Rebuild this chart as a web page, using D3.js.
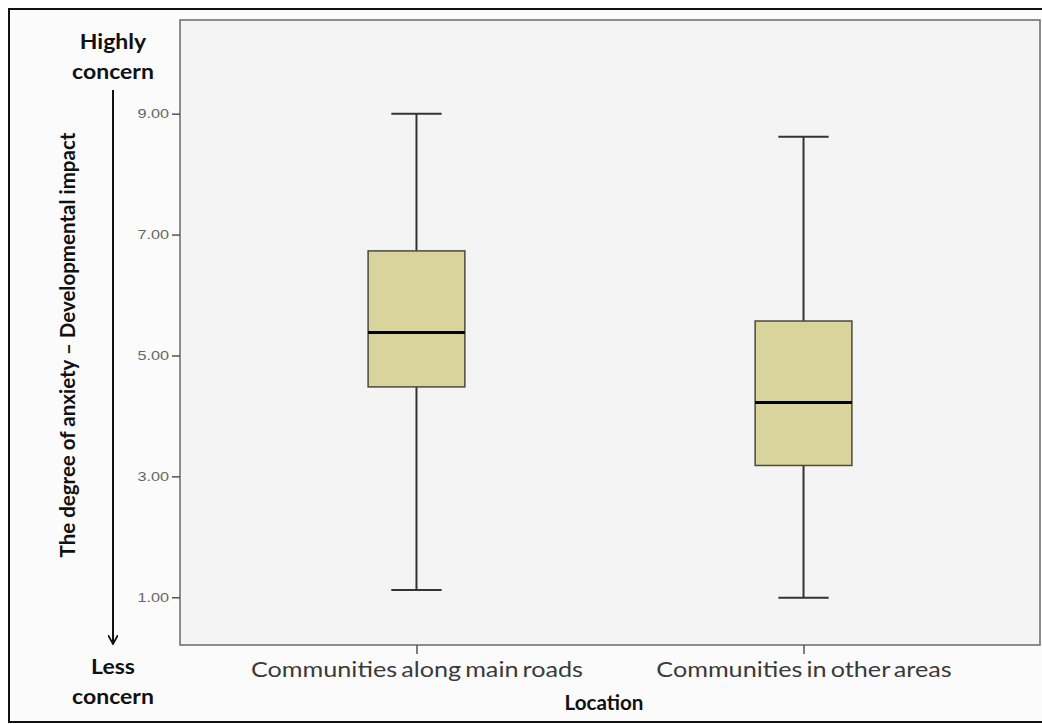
<!DOCTYPE html>
<html>
<head>
<meta charset="utf-8">
<script src="https://cdn.jsdelivr.net/npm/d3@7"></script>
<style>
    body { margin: 0; background: #ffffff; }
    svg { display: block; }
</style>
</head>
<body>
<div id="chart"></div>
<script>
// data
const categories = ["Communities along main roads", "Communities in other areas"];
const whiskerLow = [1.12, 0.99];
const q1 = [4.48, 3.18];
const median = [5.38, 4.22];
const q3 = [6.73, 5.57];
const whiskerHigh = [9.0, 8.62];
const yTicks = [1, 3, 5, 7, 9];
const yDomain = [0.21, 10.55];

const boxes = categories.map((c, i) => ({
    cat: c, lo: whiskerLow[i], q1: q1[i], med: median[i], q3: q3[i], hi: whiskerHigh[i]
}));

const W = 1042, H = 724;
const plot = {left: 180, right: 1040, top: 20, bottom: 645};
// the source picture is a bit wider than tall, so horizontal text is stretched
const sx = 1.2;

const svg = d3.select("#chart").append("svg")
    .attr("width", W)
    .attr("height", H);

// outer frame
svg.append("rect")
    .attr("x", 9).attr("y", 9)
    .attr("width", W + 20).attr("height", 713)
    .attr("fill", "#fbfbfb")
    .attr("stroke", "#111")
    .attr("stroke-width", 2);

// scales
const y = d3.scaleLinear().domain(yDomain).range([plot.bottom, plot.top]);
const x = d3.scalePoint().domain(categories).range([plot.left, plot.right]).padding(0.611);
const step = x.step();
const boxW = step * 0.25;
const capW = step * 0.13;

// plot background
svg.append("rect")
    .attr("x", plot.left).attr("y", plot.top)
    .attr("width", plot.right - plot.left).attr("height", plot.bottom - plot.top)
    .attr("fill", "#f4f4f4")
    .attr("stroke", "#6a6a6a")
    .attr("stroke-width", 1.5);

// y axis
const yAxis = d3.axisLeft(y).tickValues(yTicks).tickFormat(d3.format(".2f")).tickSize(8).tickPadding(2);
const yG = svg.append("g")
    .attr("transform", `translate(${plot.left},0)`)
    .call(yAxis);
yG.select(".domain").remove();
yG.selectAll(".tick line").attr("stroke", "#555").attr("stroke-width", 1.5);
yG.selectAll(".tick text")
    .attr("x", -11 / 1.3)
    .attr("transform", "scale(1.3,1)")
    .attr("fill", "#666")
    .style("font-family", "Arial, 'Liberation Sans', sans-serif")
    .style("font-size", "12.5px");

// x axis
const xAxis = d3.axisBottom(x).tickSize(9).tickPadding(8);
const xG = svg.append("g")
    .attr("transform", `translate(0,${plot.bottom})`)
    .call(xAxis);
xG.select(".domain").remove();
xG.selectAll(".tick line").attr("stroke", "#555").attr("stroke-width", 1.5);
xG.selectAll(".tick text")
    .attr("transform", `scale(${sx},1)`)
    .attr("fill", "#3a3a3a")
    .attr("y", 32)
    .attr("dy", 0)
    .style("word-spacing", "-2px")
    .style("font-family", "Lato, 'Open Sans', sans-serif")
    .style("font-size", "21px");

// boxes
const g = svg.selectAll(".box")
    .data(boxes)
    .enter().append("g")
    .attr("class", "box");

g.append("line")
    .attr("x1", d => x(d.cat)).attr("x2", d => x(d.cat))
    .attr("y1", d => y(d.hi)).attr("y2", d => y(d.q3))
    .attr("stroke", "#333").attr("stroke-width", 2);
g.append("line")
    .attr("x1", d => x(d.cat)).attr("x2", d => x(d.cat))
    .attr("y1", d => y(d.q1)).attr("y2", d => y(d.lo))
    .attr("stroke", "#333").attr("stroke-width", 2);
g.append("line")
    .attr("x1", d => x(d.cat) - capW / 2).attr("x2", d => x(d.cat) + capW / 2)
    .attr("y1", d => y(d.hi)).attr("y2", d => y(d.hi))
    .attr("stroke", "#333").attr("stroke-width", 2);
g.append("line")
    .attr("x1", d => x(d.cat) - capW / 2).attr("x2", d => x(d.cat) + capW / 2)
    .attr("y1", d => y(d.lo)).attr("y2", d => y(d.lo))
    .attr("stroke", "#333").attr("stroke-width", 2);
g.append("rect")
    .attr("x", d => x(d.cat) - boxW / 2)
    .attr("y", d => y(d.q3))
    .attr("width", boxW)
    .attr("height", d => y(d.q1) - y(d.q3))
    .attr("fill", "#d9d39c")
    .attr("stroke", "#4a4a40")
    .attr("stroke-width", 1.5);
g.append("line")
    .attr("x1", d => x(d.cat) - boxW / 2).attr("x2", d => x(d.cat) + boxW / 2)
    .attr("y1", d => y(d.med)).attr("y2", d => y(d.med))
    .attr("stroke", "#000").attr("stroke-width", 3);

// stretched bold label helper
function boldLabel(txt, cx, cy, stretch) {
    svg.append("text")
        .attr("transform", `translate(${cx},${cy}) scale(${stretch},1)`)
        .attr("text-anchor", "middle")
        .style("font-family", "Lato, 'Open Sans', sans-serif")
        .style("font-size", "20px")
        .style("font-weight", "bold")
        .attr("fill", "#111")
        .text(txt);
}

// x title
boldLabel("Location", 604, 710, 1.03);

// y title
svg.append("text")
    .attr("transform", "translate(75,345) rotate(-90)")
    .attr("text-anchor", "middle")
    .style("font-family", "Lato, 'Open Sans', sans-serif")
    .style("font-size", "20.5px")
    .style("font-weight", "bold")
    .attr("fill", "#111")
    .text("The degree of anxiety \u2013 Developmental impact");

// arrow
svg.append("defs").append("marker")
    .attr("id", "arrow")
    .attr("viewBox", "0 0 10 10")
    .attr("refX", 9).attr("refY", 5)
    .attr("markerWidth", 10).attr("markerHeight", 10)
    .attr("markerUnits", "userSpaceOnUse")
    .attr("orient", "auto")
    .append("path")
    .attr("d", "M0,0 L9,5 L0,10")
    .attr("fill", "none")
    .attr("stroke", "#111")
    .attr("stroke-width", 1.8);

svg.append("line")
    .attr("x1", 113).attr("x2", 113)
    .attr("y1", 90).attr("y2", 644)
    .attr("stroke", "#111")
    .attr("stroke-width", 2)
    .attr("marker-end", "url(#arrow)");

// concern labels
const concern = [["Highly", 49], ["concern", 79], ["Less", 674], ["concern", 704]];
concern.forEach(d => boldLabel(d[0], 113, d[1], 1.15));
</script>
</body>
</html>
